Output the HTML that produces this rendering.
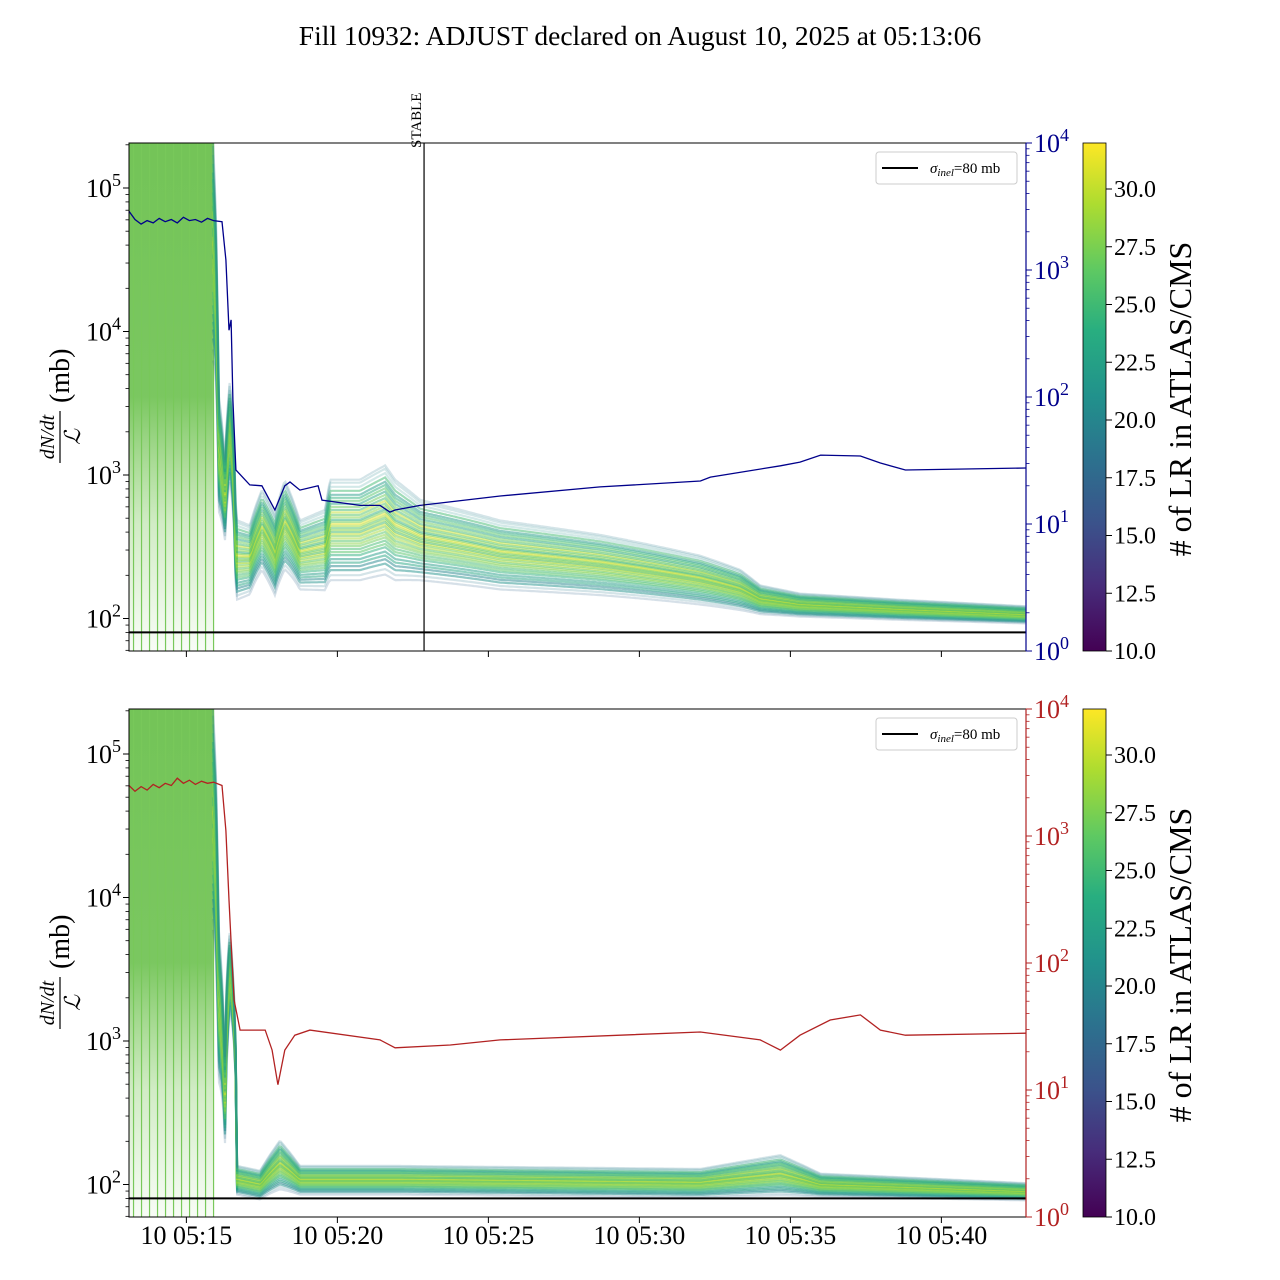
<!DOCTYPE html>
<html><head><meta charset="utf-8"><style>
html,body{margin:0;padding:0;background:#fff}
svg{display:block;font-family:"Liberation Serif",serif}
</style></head><body>
<svg id="c" width="1280" height="1280" xmlns="http://www.w3.org/2000/svg">
<defs>
<linearGradient id="vir" x1="0" y1="1" x2="0" y2="0">
<stop offset="0" stop-color="#440154"/><stop offset="0.13" stop-color="#472d7b"/><stop offset="0.25" stop-color="#3b528b"/><stop offset="0.38" stop-color="#2c728e"/><stop offset="0.5" stop-color="#21918c"/><stop offset="0.63" stop-color="#28ae80"/><stop offset="0.75" stop-color="#5ec962"/><stop offset="0.88" stop-color="#addc30"/><stop offset="1" stop-color="#fde725"/>
</linearGradient>
<linearGradient id="spk" x1="0" y1="0" x2="0" y2="1">
<stop offset="0" stop-color="#6cc14f" stop-opacity="0.95"/><stop offset="0.5" stop-color="#6cc14f" stop-opacity="0.9"/><stop offset="0.75" stop-color="#7cc85a" stop-opacity="0.35"/><stop offset="1" stop-color="#7cc85a" stop-opacity="0.05"/>
</linearGradient>
<clipPath id="clipTop"><rect x="129" y="143" width="897" height="508"/></clipPath>
<clipPath id="clipBot"><rect x="129" y="709" width="897" height="508"/></clipPath>
</defs>
<text x="640" y="45" font-size="27.5" text-anchor="middle">Fill 10932: ADJUST declared on August 10, 2025 at 05:13:06</text>
<g id="top"></g>
<g id="bot"></g>
</svg>
<script>
// ---- data ----
const bandTimes = [13.1,15.88,16.05,16.28,16.44,16.64,17.1,17.5,17.93,18.26,18.76,19.59,19.76,20.75,21.58,21.91,22.74,25.39,28.7,32.02,33.34,34.0,35.32,38.63,42.8];
const topMedian = [37000,37000,1500,670,2060,256,256,414,277,449,277,300,414,414,486,414,352,277,236,185,158,135,124,115,106];
const topSpread = [0.77,0.77,0.42,0.28,0.35,0.28,0.24,0.28,0.28,0.31,0.24,0.28,0.35,0.35,0.38,0.35,0.28,0.24,0.21,0.17,0.14,0.10,0.08,0.07,0.06];
const botTimes = [13.1,15.88,16.05,16.28,16.44,16.68,17.44,18.1,18.76,22.07,32.02,34.67,36.0,42.8];
const botMedian = [35000,35000,1930,388,3130,107,99,137,107,107,102,116,99,89];
const botSpread = [0.77,0.77,0.56,0.3,0.28,0.1,0.1,0.17,0.1,0.1,0.1,0.14,0.08,0.06];
const lineOffsets = [-1,-0.9,-0.8,-0.72,-0.65,-0.58,-0.5,-0.44,-0.38,-0.32,-0.27,-0.22,-0.17,-0.12,-0.08,-0.04,0,0.04,0.08,0.12,0.16,0.2,0.25,0.3,0.35,0.4,0.46,0.52,0.58,0.64,0.7,0.78,0.86,0.94,1];
const lineLR = [17,19,21,20,23,22,24,26,25,27,28,26,29,27,30,25,28,26,29,31,27,24,28,26,30,25,27,23,26,24,22,25,21,20,19];
const blueTimes = [13.1,13.3,13.5,13.7,13.9,14.1,14.3,14.5,14.7,14.9,15.1,15.3,15.5,15.7,15.9,16.18,16.31,16.41,16.48,16.54,16.64,17.1,17.5,17.93,18.26,18.43,18.76,19.36,19.49,20.75,21.41,21.74,21.91,22.74,25.39,28.7,32.02,32.35,34.67,35.32,36.0,37.32,37.98,38.81,42.8];
const blueValues = [2900,2500,2300,2450,2350,2550,2400,2500,2350,2600,2450,2500,2380,2550,2450,2400,1200,336,405,95,26.6,20.3,20,12.9,20,21.4,18.5,20,15.4,14,14,12.4,12.9,14,16.6,19.6,21.8,23.4,28.7,30.7,34.9,34.3,30.2,26.6,27.6];
const redTimes = [13.1,13.3,13.5,13.7,13.9,14.1,14.3,14.5,14.7,14.9,15.1,15.3,15.5,15.7,15.9,16.18,16.31,16.41,16.51,16.58,16.78,17.61,17.84,18.03,18.26,18.59,19.09,21.41,21.91,23.74,25.39,32.02,34.0,34.67,35.32,36.32,37.32,37.98,38.81,42.8];
const redValues = [2500,2250,2450,2300,2550,2400,2600,2500,2850,2600,2750,2550,2700,2600,2650,2500,1100,313,105,51,29.6,29.6,20.6,11,20.6,27,29.6,24.8,21.5,22.6,24.8,28.6,24.8,20.6,27,35.6,39,29.6,27,28];
const xTickMinutes = [15,20,25,30,35,40];
const xTickLabels = ["10 05:15","10 05:20","10 05:25","10 05:30","10 05:35","10 05:40"];
const cbTicks = [10,12.5,15,17.5,20,22.5,25,27.5,30];
const sigmaInel = 80;
const stableMinute = 22.87;

// ---- helpers ----
const NS="http://www.w3.org/2000/svg";
function mk(tag,attrs,parent){const e=document.createElementNS(NS,tag);for(const k in attrs)e.setAttribute(k,attrs[k]);parent.appendChild(e);return e;}
const X0=129,X1=1026;
function xs(t){return X0+(t-13.1)*30.2;}
function yl(v,top){return top+45-(Math.log10(v)-5)*143.5;}
function yr(v,top){return top+508-Math.log10(v)*127;}
function interp(ts,vs,t){for(let i=0;i<ts.length-1;i++){if(t<=ts[i+1]){const f=(t-ts[i])/(ts[i+1]-ts[i]);return vs[i]+(vs[i+1]-vs[i])*f;}}return vs[vs.length-1];}
const vstops=[[68,1,84],[71,45,123],[59,82,139],[44,114,142],[33,145,140],[40,174,128],[94,201,98],[173,220,48],[253,231,37]];
function viridis(v){let f=(v-10)/22;f=Math.max(0,Math.min(1,f))*8;const i=Math.min(7,Math.floor(f)),r=f-i;const a=vstops[i],b=vstops[i+1];return `rgb(${Math.round(a[0]+(b[0]-a[0])*r)},${Math.round(a[1]+(b[1]-a[1])*r)},${Math.round(a[2]+(b[2]-a[2])*r)})`;}

function panel(g,top,clip,times,med,spr,lineT,lineV,lineCol,showX,stable){
  const bottom=top+508;
  const data=mk('g',{'clip-path':`url(#${clip})`},g);
  const sp=mk('rect',{x:X0,y:top,width:xs(15.88)-X0,height:508,fill:'url(#spk)'},data);
  
  
  for(let t=13.25;t<16.0;t+=0.265){
    const vl=mk('line',{x1:xs(t),x2:xs(t),y1:top,y2:bottom,stroke:'#78c85a','stroke-width':1.2},data);
    
    
  }
  const fine=[];for(let t=15.88;t<=42.8;t+=0.05)fine.push(t);
  lineOffsets.forEach((o,k)=>{
    const pts=fine.map(t=>{const m=Math.log10(interp(times,med,t));const s=interp(times,spr,t);return xs(t).toFixed(1)+','+yl(Math.pow(10,m+o*s),top).toFixed(1);});
    const p=mk('polyline',{points:pts.join(' '),fill:'none',stroke:viridis(lineLR[k]),'stroke-width':2.2,'stroke-opacity':Math.abs(o)>0.85?0.2:0.5},data);
    
    
  });
  const sl=mk('line',{x1:X0,x2:X1,y1:yl(sigmaInel,top),y2:yl(sigmaInel,top),stroke:'#000','stroke-width':2},data);
  
  
  if(stable){
    const st=mk('line',{x1:xs(stableMinute),x2:xs(stableMinute),y1:top,y2:bottom,stroke:'#000','stroke-width':1.2},g);
    
    
    const tt=mk('text',{x:0,y:0,'font-size':15,transform:`translate(${xs(stableMinute)-3},${top+5}) rotate(-90)`},g);
    tt.textContent='STABLE';
    
    
  }
  const rp=lineT.map((t,i)=>xs(t).toFixed(1)+','+yr(lineV[i],top).toFixed(1)).join(' ');
  const rl=mk('polyline',{points:rp,fill:'none',stroke:lineCol,'stroke-width':1.3},data);
  
  
  const fr=mk('rect',{x:X0,y:top,width:X1-X0,height:508,fill:'none',stroke:'#000','stroke-width':1},g);
  
  
  for(let e=2;e<=5;e++){
    const y=yl(Math.pow(10,e),top);
    mk('line',{x1:X0-6,x2:X0,y1:y,y2:y,stroke:'#000'},g);
    const t=mk('text',{x:X0-8,y:y+9,'font-size':26,'text-anchor':'end'},g);
    t.innerHTML=`10<tspan dy="-11" font-size="18">${e}</tspan>`;
    
    
  }
  for(let e=1;e<=5;e++)for(let m=2;m<=9;m++){const y=yl(m*Math.pow(10,e),top);if(y>top&&y<bottom)mk('line',{x1:X0-3.5,x2:X0,y1:y,y2:y,stroke:'#000','stroke-width':0.8},g);}
  mk('line',{x1:X1,x2:X1,y1:top,y2:bottom,stroke:lineCol,'stroke-width':1.2},g);
  for(let e=0;e<=4;e++){
    const y=yr(Math.pow(10,e),top);
    mk('line',{x1:X1,x2:X1+6,y1:y,y2:y,stroke:lineCol},g);
    const t=mk('text',{x:X1+8,y:y+9,'font-size':26,fill:lineCol},g);
    t.innerHTML=`10<tspan dy="-11" font-size="18">${e}</tspan>`;
    
    
  }
  for(let e=0;e<4;e++)for(let m=2;m<=9;m++){const y=yr(m*Math.pow(10,e),top);mk('line',{x1:X1,x2:X1+3.5,y1:y,y2:y,stroke:lineCol,'stroke-width':0.8},g);}
  xTickMinutes.forEach((m,i)=>{
    const x=xs(m);
    mk('line',{x1:x,x2:x,y1:bottom,y2:bottom+6,stroke:'#000'},g);
    if(showX){const t=mk('text',{x:x,y:bottom+27,'font-size':26,'text-anchor':'middle'},g);t.textContent=xTickLabels[i];
      
      }
  });
  const yg=mk('g',{transform:`translate(60,${top+254}) rotate(-90)`},g);
  
  
  const a=mk('text',{x:-40,y:-6,'font-size':20,'font-style':'italic','text-anchor':'middle'},yg);a.textContent='dN/dt';
  mk('line',{x1:-66,x2:-14,y1:0,y2:0,stroke:'#000','stroke-width':1.2},yg);
  const b=mk('text',{x:-40,y:20,'font-size':22,'font-style':'italic','text-anchor':'middle','font-family':'DejaVu Serif, serif'},yg);b.textContent='ℒ';
  const c=mk('text',{x:-6,y:9,'font-size':28},yg);c.textContent='(mb)';
  const lg=mk('g',{},g);
  
  
  mk('rect',{x:876,y:top+9,width:141,height:32,rx:3,fill:'#fff',stroke:'#ccc'},lg);
  mk('line',{x1:882,x2:918,y1:top+25,y2:top+25,stroke:'#000','stroke-width':2},lg);
  const lt=mk('text',{x:930,y:top+30,'font-size':15},lg);
  lt.innerHTML='<tspan font-style="italic">σ</tspan><tspan font-size="11" dy="3" font-style="italic">inel</tspan><tspan dy="-3">=80 mb</tspan>';
  const cb=mk('g',{},g);
  
  
  mk('rect',{x:1083,y:top,width:23,height:508,fill:'url(#vir)',stroke:'#000','stroke-width':0.8},cb);
  cbTicks.forEach(v=>{const y=top+508-(v-10)*23.1;mk('line',{x1:1106,x2:1112,y1:y,y2:y,stroke:'#000'},cb);
    const t=mk('text',{x:1114,y:y+8,'font-size':24},cb);t.textContent=v.toFixed(1);
    
    });
  const cl=mk('text',{x:0,y:0,'font-size':32,'text-anchor':'middle',transform:`translate(1191,${top+256}) rotate(-90)`},cb);
  cl.textContent='# of LR in ATLAS/CMS';
  
  
}
panel(document.getElementById('top'),143,'clipTop',bandTimes,topMedian,topSpread,blueTimes,blueValues,'#00008b',false,true);
panel(document.getElementById('bot'),709,'clipBot',botTimes,botMedian,botSpread,redTimes,redValues,'#b22222',true,false);
</script>
</body></html>
